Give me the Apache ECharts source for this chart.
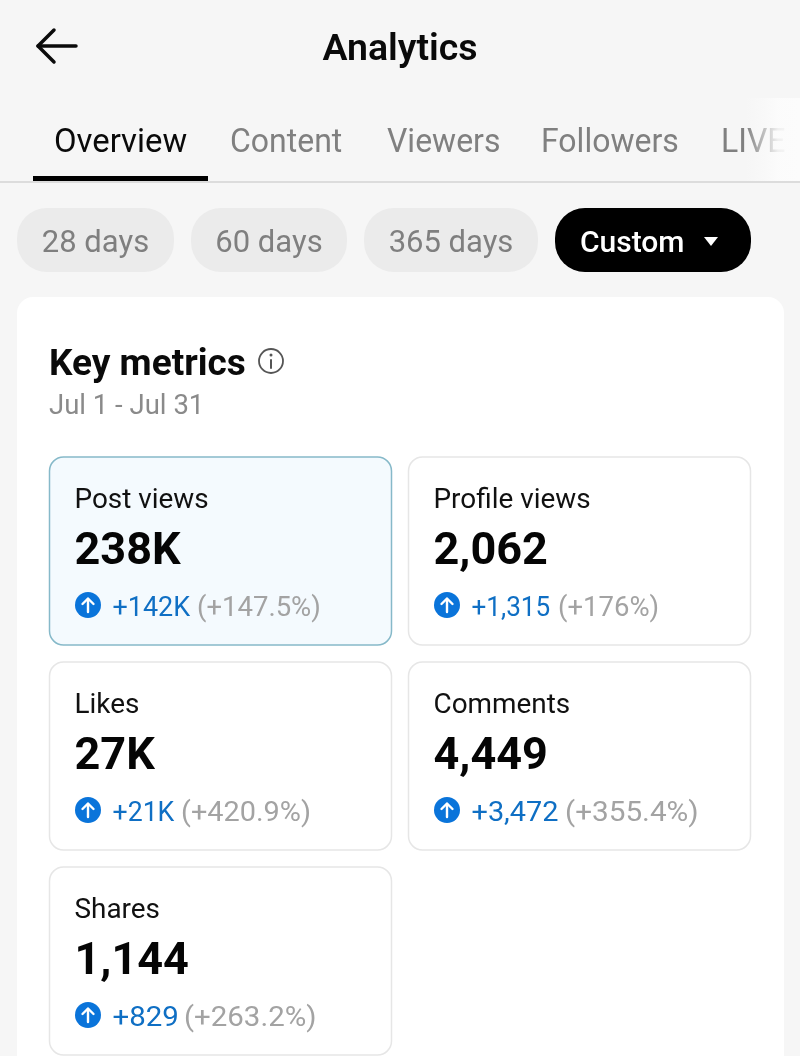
<!DOCTYPE html>
<html><head><meta charset="utf-8">
<style>html,body{margin:0;padding:0;background:#f6f6f6}#c{width:800px;height:1056px}</style>
<script src="https://cdn.jsdelivr.net/npm/echarts@6/dist/echarts.min.js"></script>
</head><body><div id="c"></div>
<script>
const pageTitle = 'Analytics';
const tabs = ['Overview','Content','Viewers','Followers','LIVE'];
const ranges = ['28 days','60 days','365 days','Custom'];
const cardTitle = 'Key metrics';
const dateRange = 'Jul 1 - Jul 31';
const metricNames = ['Post views','Profile views','Likes','Comments','Shares'];
const metricValues = ['238K','2,062','27K','4,449','1,144'];
const metricDeltas = ['+142K','+1,315','+21K','+3,472','+829'];
const metricPercents = ['(+147.5%)','(+176%)','(+420.9%)','(+355.4%)','(+263.2%)'];

const F = 'Roboto, "Noto Sans", sans-serif';
const g = [];
function txt(x,y,text,size,fill,weight,align,sx){
  g.push({type:'text',x,y,scaleX:sx||1,style:{x:0,y:0,text,fontFamily:F,fontSize:size,fontWeight:weight||400,fill,
    align:align||'left',verticalAlign:'middle'}});
}
function rect(x,y,w,h,r,fill,stroke,lw){
  g.push({type:'rect',shape:{x,y,width:w,height:h,r},style:{fill,stroke:stroke||null,lineWidth:lw||0}});
}
function line(points,stroke,lw){
  g.push({type:'polyline',shape:{points},style:{fill:null,stroke,lineWidth:lw,lineCap:'round',lineJoin:'round'}});
}
// header
line([[76,46],[38,46]],'#0b0b0b',3.5);
line([[54,30],[38,46],[54,62]],'#0b0b0b',3.5);
txt(400,51,pageTitle,37.5,'#0a0a0a',600,'center');
// tabs
const tabX = [54,230,387,541,721];
tabs.forEach((t,i)=>txt(tabX[i],144,t,33.5,i===0?'#0a0a0a':'#808080',400,'left',i===0?0.98:0.955));
g.push({type:'rect',shape:{x:745,y:98,width:55,height:84},style:{fill:new echarts.graphic.LinearGradient(0,0,1,0,[
  {offset:0,color:'rgba(250,250,250,0)'},{offset:0.6,color:'rgba(252,252,252,0.9)'},{offset:1,color:'rgba(252,252,252,1)'}])}});
rect(0,181,800,2,0,'#dcdcdc');
rect(33,176,175,5,0,'#000');
// range pills
const pillX = [17,191,364,555], pillW=[157,156,174,196];
ranges.forEach((t,i)=>{
  const dark=i===3;
  rect(pillX[i],208,pillW[i],64,30,dark?'#000':'#ebebeb');
  if(dark) txt(pillX[i]+25,244,t,30,'#fff',500,'left');
  else txt(pillX[i]+pillW[i]/2,244,t,31,'#7f7f7f',400,'center');
});
g.push({type:'polygon',shape:{points:[[704,237],[718,237],[711,246]]},style:{fill:'#fff'}});
// main card
rect(17,297,767,800,16,'#ffffff');
txt(49,366,cardTitle,37,'#0a0a0a',700);
g.push({type:'circle',shape:{cx:271,cy:361,r:12},style:{fill:null,stroke:'#555',lineWidth:1.8}});
g.push({type:'circle',shape:{cx:271,cy:355,r:1.5},style:{fill:'#555'}});
line([[271,360],[271,368]],'#555',2);
txt(49,407,dateRange,27.5,'#8a8a8a',400);
// metric tiles
const colX=[49.5,408.5], rowY=[457,662,867], tileW=342, tileH=188;
const percentX=[197,558,181,565,184];
const deltaFit=[0.98,0.95,0.97,1.05,1.07], percentFit=[1,1,1.05,1.08,1.07];
metricNames.forEach((n,i)=>{
  const x=colX[i%2], y=rowY[Math.floor(i/2)];
  const sel=i===0;
  rect(x,y,tileW,tileH,14,sel?'#f4fafe':'#ffffff',sel?'#86b9c9':'#e6e6e6',1.5);
  txt(x+25,y+44,n,27.9,'#111',400);
  txt(x+25,y+96,metricValues[i],45,'#050505',700);
  const cx=x+38.5, cy=y+148;
  g.push({type:'circle',shape:{cx,cy,r:13},style:{fill:'#0a74da'}});
  line([[cx,cy+7],[cx,cy-6]],'#fff',2.4);
  line([[cx-5.5,cy-1],[cx,cy-6.5],[cx+5.5,cy-1]],'#fff',2.4);
  txt(x+63,y+152,metricDeltas[i],27.5,'#0f6fc4',400,'left',deltaFit[i]);
  txt(percentX[i],y+152,metricPercents[i],27.5,'#a3a3a3',400,'left',percentFit[i]);
});

const chart=echarts.init(document.getElementById('c'),null,{renderer:'canvas'});
chart.setOption({animation:false,backgroundColor:'#f6f6f6',graphic:{elements:g}});
</script></body></html>
